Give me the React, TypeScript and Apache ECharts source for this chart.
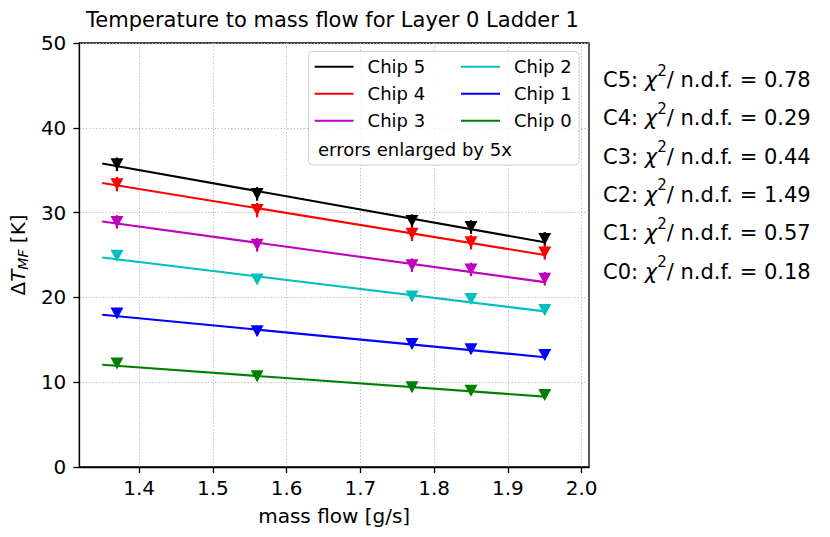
import React, { useEffect, useRef } from "react";
import * as echarts from "echarts";

// ---- data ----
const massFlow = [1.37, 1.56, 1.77, 1.85, 1.95];
const fitX = [1.35, 1.95];
const chipNames = ["Chip 5", "Chip 4", "Chip 3", "Chip 2", "Chip 1", "Chip 0"];
const chipShort = ["C5", "C4", "C3", "C2", "C1", "C0"];
const chipColors = ["#000000", "#ff0000", "#bf00bf", "#00bfbf", "#0000ff", "#008000"];
const chip5 = [35.7, 32.2, 29.0, 28.3, 26.9];
const chip4 = [33.35, 30.3, 27.5, 26.5, 25.3];
const chip3 = [28.9, 26.2, 23.8, 23.3, 22.2];
const chip2 = [24.9, 22.1, 20.1, 19.8, 18.5];
const chip1 = [18.1, 16.0, 14.5, 13.9, 13.2];
const chip0 = [12.2, 10.7, 9.4, 9.0, 8.5];
const chipValues = [chip5, chip4, chip3, chip2, chip1, chip0];
const fit5 = [35.8, 26.5];
const fit4 = [33.5, 25.0];
const fit3 = [28.95, 21.8];
const fit2 = [24.7, 18.35];
const fit1 = [17.95, 12.95];
const fit0 = [12.05, 8.3];
const fitValues = [fit5, fit4, fit3, fit2, fit1, fit0];
const chipErrors = [0.8, 0.85, 0.8, 0.5, 0.5, 0.5];
const chi2 = ["0.78", "0.29", "0.44", "1.49", "0.57", "0.18"];
const xTicks = [1.4, 1.5, 1.6, 1.7, 1.8, 1.9, 2.0];

const FONT = "DejaVu Sans";

export default function App() {
  const ref = useRef<HTMLDivElement>(null);
  useEffect(() => {
    if (!ref.current) return;
    const chart = echarts.init(ref.current, null, { renderer: "svg" });

    const series: any[] = [];
    chipNames.forEach((name, k) => {
      const color = chipColors[k];
      series.push({
        type: "line",
        name,
        data: fitX.map((x, i) => [x, fitValues[k][i]]),
        symbol: "none",
        lineStyle: { color, width: 2.1 },
        itemStyle: { color },
        z: 2,
      });
      series.push({
        type: "custom",
        name: name + " errors",
        data: massFlow.map((x, i) => [x, chipValues[k][i], chipErrors[k]]),
        encode: { x: 0, y: 1 },
        renderItem: (params: any, api: any) => {
          const x = api.value(0);
          const y = api.value(1);
          const e = api.value(2);
          const p1 = api.coord([x, y - e]);
          const p2 = api.coord([x, y + e]);
          return {
            type: "line",
            shape: { x1: p1[0], y1: p1[1], x2: p2[0], y2: p2[1] },
            style: { stroke: color, lineWidth: 2.2 },
          };
        },
        z: 3,
      });
      series.push({
        type: "scatter",
        name: name + " data",
        data: massFlow.map((x, i) => [x, chipValues[k][i]]),
        symbol: "triangle",
        symbolRotate: 180,
        symbolSize: [13, 12],
        itemStyle: { color, opacity: 1 },
        z: 4,
      });
    });

    const legendCommon = {
      orient: "vertical",
      top: 56.7,
      padding: 0,
      itemGap: 7,
      itemWidth: 39,
      itemHeight: 2,
      icon: "rect",
      z: 10,
      selectedMode: false,
      textStyle: {
        fontFamily: FONT,
        fontSize: 18,
        color: "#000",
        lineHeight: 20,
        padding: [0, 0, 0, 9],
      },
    };

    const graphic: any[] = [
      {
        type: "rect",
        shape: { x: 308.5, y: 51.5, width: 270.5, height: 113.5, r: 4 },
        style: { fill: "rgba(255,255,255,0.8)", stroke: "#d0d0d0", lineWidth: 1 },
        z: 5,
      },
      {
        type: "text",
        x: 318,
        y: 149.3,
        style: {
          text: "errors enlarged by 5x",
          fontFamily: FONT,
          fontSize: 18,
          fill: "#000",
          align: "left",
          verticalAlign: "middle",
        },
        z: 11,
      },
    ];
    chipShort.forEach((c, k) => {
      graphic.push({
        type: "text",
        x: 603,
        y: 80 + k * 38.3,
        style: {
          text: `{n|${c}: }{g|χ}{s|2}{n|/ n.d.f. = ${chi2[k]}}`,
          align: "left",
          verticalAlign: "middle",
          rich: {
            n: { fontFamily: FONT, fontSize: 21, fill: "#000", lineHeight: 34, verticalAlign: "middle" },
            g: { fontFamily: FONT, fontSize: 21, fontStyle: "italic", fill: "#000", lineHeight: 34, verticalAlign: "middle" },
            s: { fontFamily: FONT, fontSize: 15, fill: "#000", lineHeight: 15, verticalAlign: "top" },
          },
        },
        z: 11,
      });
    });

    const gridLine = { show: true, lineStyle: { color: "#b8b8b8", type: [1.2, 2.1], width: 1 } };

    const option: any = {
      animation: false,
      backgroundColor: "#ffffff",
      textStyle: { fontFamily: FONT },
      title: {
        text: "Temperature to mass flow for Layer 0 Ladder 1",
        left: 332.5,
        top: 6.5,
        padding: 0,
        textAlign: "center",
        textStyle: { fontFamily: FONT, fontSize: 21, fontWeight: "normal", color: "#000", lineHeight: 26 },
      },
      grid: {
        left: 76,
        top: 43,
        width: 513,
        height: 424,
        show: true,
        borderColor: "#000",
        borderWidth: 1.3,
        backgroundColor: "transparent",
      },
      legend: [
        { ...legendCommon, left: 314.6, data: chipNames.slice(0, 3) },
        { ...legendCommon, left: 461, data: chipNames.slice(3, 6) },
      ],
      xAxis: {
        type: "value",
        min: 1.319,
        max: 2.01,
        splitNumber: 7,
        name: "mass flow [g/s]",
        nameLocation: "middle",
        nameGap: 39,
        nameTextStyle: { fontFamily: FONT, fontSize: 20, color: "#000" },
        axisLine: { show: true, onZero: false, lineStyle: { color: "#000", width: 1.3 } },
        axisTick: { show: true, length: 6, customValues: xTicks, lineStyle: { color: "#000", width: 1.3 } },
        axisLabel: {
          customValues: xTicks,
          fontFamily: FONT,
          fontSize: 20,
          color: "#000",
          margin: 11,
          formatter: (v: number) => v.toFixed(1),
        },
        splitLine: gridLine,
      },
      yAxis: {
        type: "value",
        min: 0,
        max: 50,
        interval: 10,
        name: "{a|Δ}{b|T}{c|MF}{a| [K]}",
        nameLocation: "middle",
        nameGap: 44,
        nameTextStyle: {
          rich: {
            a: { fontFamily: FONT, fontSize: 20, color: "#000", lineHeight: 24, verticalAlign: "middle" },
            b: { fontFamily: FONT, fontSize: 20, fontStyle: "italic", color: "#000", lineHeight: 24, verticalAlign: "middle" },
            c: { fontFamily: FONT, fontSize: 14, fontStyle: "italic", color: "#000", lineHeight: 14, verticalAlign: "bottom" },
          },
        },
        axisLine: { show: true, lineStyle: { color: "#000", width: 1.3 } },
        axisTick: { show: true, length: 6, lineStyle: { color: "#000", width: 1.3 } },
        axisLabel: { fontFamily: FONT, fontSize: 20, color: "#000", margin: 13 },
        splitLine: gridLine,
      },
      graphic,
      series,
    };
    chart.setOption(option);
    return () => chart.dispose();
  }, []);
  return (
    <div
      ref={ref}
      style={{ position: "absolute", left: 0, top: 0, width: 830, height: 537, background: "#fff" }}
    />
  );
}
